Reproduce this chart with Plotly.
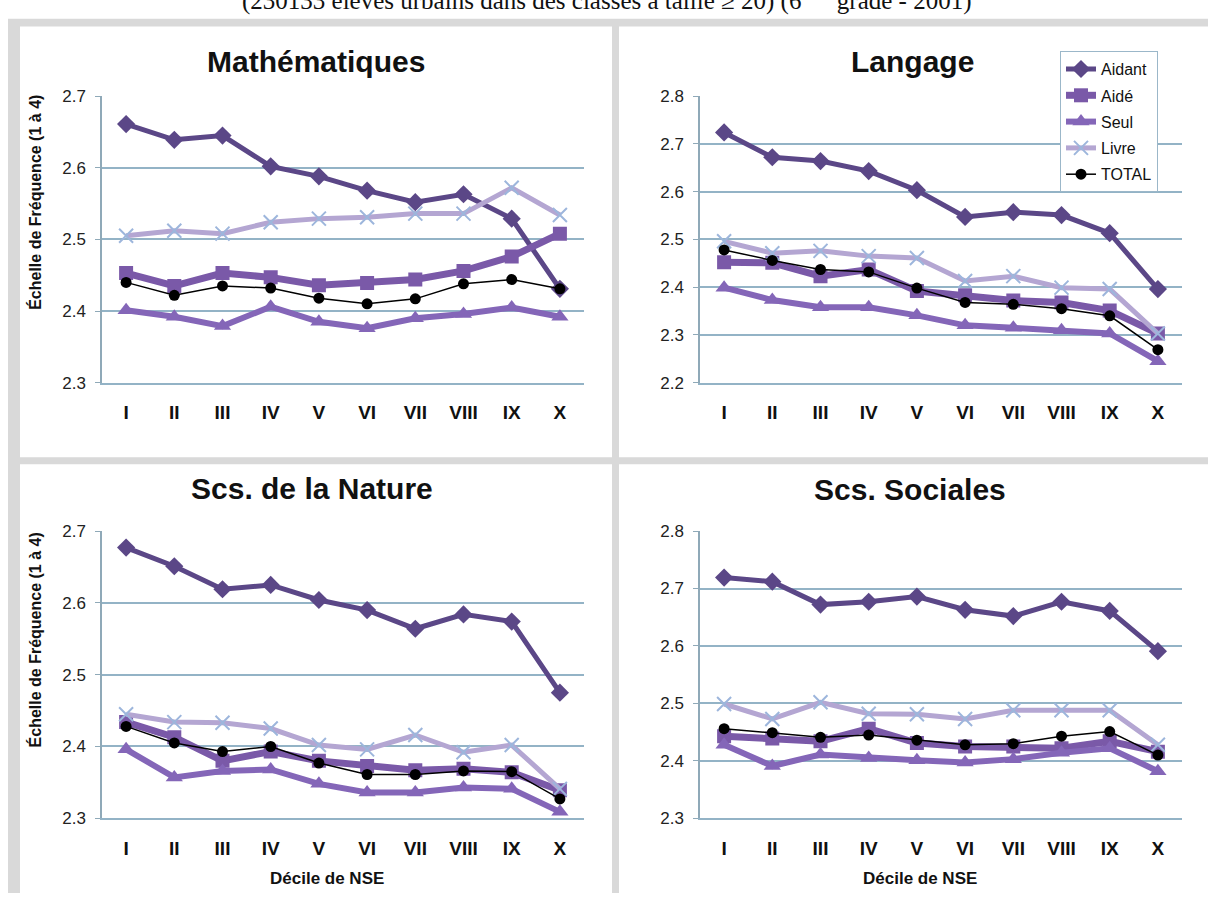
import plotly.graph_objects as go

W, H = 1208, 903

deciles = ["I", "II", "III", "IV", "V", "VI", "VII", "VIII", "IX", "X"]
series_names = ["Aidant", "Aidé", "Seul", "Livre", "TOTAL"]

math_aidant = [2.661, 2.639, 2.645, 2.602, 2.588, 2.568, 2.552, 2.563, 2.529, 2.431]
math_aide = [2.453, 2.435, 2.453, 2.447, 2.436, 2.439, 2.444, 2.456, 2.476, 2.508]
math_seul = [2.401, 2.392, 2.379, 2.406, 2.385, 2.376, 2.390, 2.396, 2.405, 2.392]
math_livre = [2.505, 2.512, 2.508, 2.524, 2.529, 2.531, 2.536, 2.536, 2.572, 2.534]
math_total = [2.440, 2.422, 2.435, 2.432, 2.418, 2.410, 2.417, 2.438, 2.444, 2.431]

lang_aidant = [2.724, 2.672, 2.664, 2.643, 2.603, 2.547, 2.557, 2.551, 2.513, 2.396]
lang_aide = [2.452, 2.451, 2.423, 2.437, 2.392, 2.383, 2.372, 2.368, 2.351, 2.303]
lang_seul = [2.399, 2.373, 2.358, 2.358, 2.341, 2.320, 2.315, 2.310, 2.303, 2.245]
lang_livre = [2.496, 2.471, 2.476, 2.465, 2.461, 2.413, 2.423, 2.399, 2.396, 2.303]
lang_total = [2.478, 2.456, 2.437, 2.432, 2.398, 2.368, 2.364, 2.355, 2.340, 2.269]

nat_aidant = [2.677, 2.651, 2.619, 2.625, 2.604, 2.590, 2.564, 2.584, 2.574, 2.475]
nat_aide = [2.434, 2.413, 2.380, 2.393, 2.380, 2.373, 2.367, 2.369, 2.364, 2.339]
nat_seul = [2.396, 2.357, 2.366, 2.368, 2.348, 2.336, 2.336, 2.343, 2.341, 2.309]
nat_livre = [2.445, 2.434, 2.433, 2.425, 2.402, 2.396, 2.416, 2.392, 2.402, 2.341]
nat_total = [2.428, 2.405, 2.393, 2.400, 2.377, 2.361, 2.361, 2.366, 2.365, 2.327]

soc_aidant = [2.719, 2.712, 2.672, 2.677, 2.686, 2.663, 2.652, 2.677, 2.661, 2.591]
soc_aide = [2.443, 2.439, 2.434, 2.456, 2.431, 2.425, 2.425, 2.422, 2.434, 2.416]
soc_seul = [2.428, 2.391, 2.411, 2.405, 2.401, 2.397, 2.403, 2.414, 2.422, 2.382]
soc_livre = [2.499, 2.473, 2.502, 2.482, 2.481, 2.473, 2.488, 2.488, 2.488, 2.428]
soc_total = [2.456, 2.449, 2.441, 2.445, 2.436, 2.428, 2.430, 2.443, 2.451, 2.410]

panel_titles = ["Mathématiques", "Langage", "Scs. de la Nature", "Scs. Sociales"]
panel_ranges = [[2.3, 2.7], [2.2, 2.8], [2.3, 2.7], [2.3, 2.8]]
panels = [
    [math_aidant, math_aide, math_seul, math_livre, math_total],
    [lang_aidant, lang_aide, lang_seul, lang_livre, lang_total],
    [nat_aidant, nat_aide, nat_seul, nat_livre, nat_total],
    [soc_aidant, soc_aide, soc_seul, soc_livre, soc_total],
]

styles = [
    dict(line=dict(color="#5b4787", width=5), marker=dict(symbol="diamond", size=14, color="#5b4787")),
    dict(line=dict(color="#7a59a8", width=7), marker=dict(symbol="square", size=14, color="#7a59a8")),
    dict(line=dict(color="#8466b8", width=6), marker=dict(symbol="triangle-up", size=15, color="#8466b8")),
    dict(line=dict(color="#b4a6d2", width=5), marker=dict(symbol="x-thin", size=14, color="#9db6dc",
                                                          line=dict(color="#9db6dc", width=2))),
    dict(line=dict(color="#000000", width=1.5), marker=dict(symbol="circle", size=11, color="#000000")),
]

def px_x(v):
    return v / W

def px_y(v):
    return 1 - v / H

# plot areas in pixels: (x0, x1, ytop, ybottom)
areas = [
    (102, 584, 89, 381.7),
    (700, 1182, 89, 381.7),
    (102, 584, 533.3, 826.7),
    (700, 1182, 533.3, 826.7),
]

fig = go.Figure()
grid_col = "#93b3c6"
font_fam = "Liberation Sans, Arial, sans-serif"

for i, (data, area) in enumerate(zip(panels, areas)):
    k = i + 1
    xa = "x" if k == 1 else f"x{k}"
    ya = "y" if k == 1 else f"y{k}"
    for j, (name, vals) in enumerate(zip(series_names, data)):
        st = styles[j]
        fig.add_trace(go.Scatter(
            x=deciles, y=vals, name=name, mode="lines+markers",
            line=st["line"], marker=st["marker"],
            xaxis=xa, yaxis=ya, showlegend=(i == 1), legendgroup=name,
        ))
    x0, x1, yt, yb = area
    xkey = "xaxis" if k == 1 else f"xaxis{k}"
    ykey = "yaxis" if k == 1 else f"yaxis{k}"
    fig.update_layout(**{
        xkey: dict(domain=[px_x(x0), px_x(x1)], anchor=ya, type="category",
                   range=[-0.5, 9.5], showgrid=False, zeroline=False,
                   showline=True, linecolor=grid_col, linewidth=2,
                   ticks="", ticklabelstandoff=12,
                   tickfont=dict(family=font_fam, size=19, color="#111111", weight="bold")),
        ykey: dict(domain=[px_y(yb), px_y(yt)], anchor=xa, range=panel_ranges[i],
                   dtick=0.1, tickformat=".1f", showgrid=True, gridcolor=grid_col,
                   gridwidth=1.5, zeroline=False, showline=True, linecolor="#8fa9b8",
                   linewidth=1.5, ticks="outside", ticklen=5, tickcolor="#8fa9b8",
                   ticklabelstandoff=6,
                   tickfont=dict(family=font_fam, size=17, color="#222222")),
    })

shapes = [
    dict(type="rect", xref="paper", yref="paper", x0=px_x(8), x1=1, y0=0, y1=px_y(10),
         fillcolor="#d9d9d9", line=dict(width=0), layer="below"),
]
for (a, b, c, d) in [(20, 612, 18, 458), (619, 1208, 18, 458), (20, 612, 465, 903), (619, 1208, 465, 903)]:
    shapes.append(dict(type="rect", xref="paper", yref="paper", x0=px_x(a), x1=px_x(b),
                       y0=px_y(d), y1=px_y(c), fillcolor="#ffffff", line=dict(width=0), layer="below"))

annotations = [
    dict(text="(230133 élèves urbains dans des classes à taille ≥ 20) (6<sup>ème</sup> grade - 2001)",
         x=px_x(606), y=px_y(8), xref="paper", yref="paper", xanchor="center", yanchor="bottom",
         showarrow=False, font=dict(family="Liberation Serif, Times New Roman, serif", size=25, color="#111111")),
]
title_pos = [(316, 54), (913, 54), (312, 490), (910, 491)]
for t, (tx, ty) in zip(panel_titles, title_pos):
    annotations.append(dict(text=f"<b>{t}</b>", x=px_x(tx), y=px_y(ty), xref="paper", yref="paper",
                            xanchor="center", yanchor="middle", showarrow=False,
                            font=dict(family=font_fam, size=30, color="#111111")))
for ty in [198, 645]:
    annotations.append(dict(text="<b>Échelle de Fréquence (1 à 4)</b>", x=px_x(35), y=px_y(ty),
                            xref="paper", yref="paper", xanchor="center", yanchor="middle",
                            textangle=-90, showarrow=False,
                            font=dict(family=font_fam, size=16, color="#111111")))
for tx in [327, 920]:
    annotations.append(dict(text="<b>Décile de NSE</b>", x=px_x(tx), y=px_y(888), xref="paper",
                            yref="paper", xanchor="center", yanchor="middle", showarrow=False,
                            font=dict(family=font_fam, size=17, color="#111111")))

fig.update_layout(
    width=W, height=H, margin=dict(l=0, r=0, t=0, b=0),
    paper_bgcolor="#ffffff", plot_bgcolor="rgba(0,0,0,0)",
    shapes=shapes, annotations=annotations,
    legend=dict(x=px_x(1060), y=px_y(43), xanchor="left", yanchor="top",
                bgcolor="#ffffff", bordercolor="#9bb7c9", borderwidth=1,
                font=dict(family=font_fam, size=16, color="#111111"),
                itemwidth=30, tracegroupgap=2.5),
)

fig.write_html("out.html", config={"displayModeBar": False},
               post_script="document.body.style.margin='0px';")
